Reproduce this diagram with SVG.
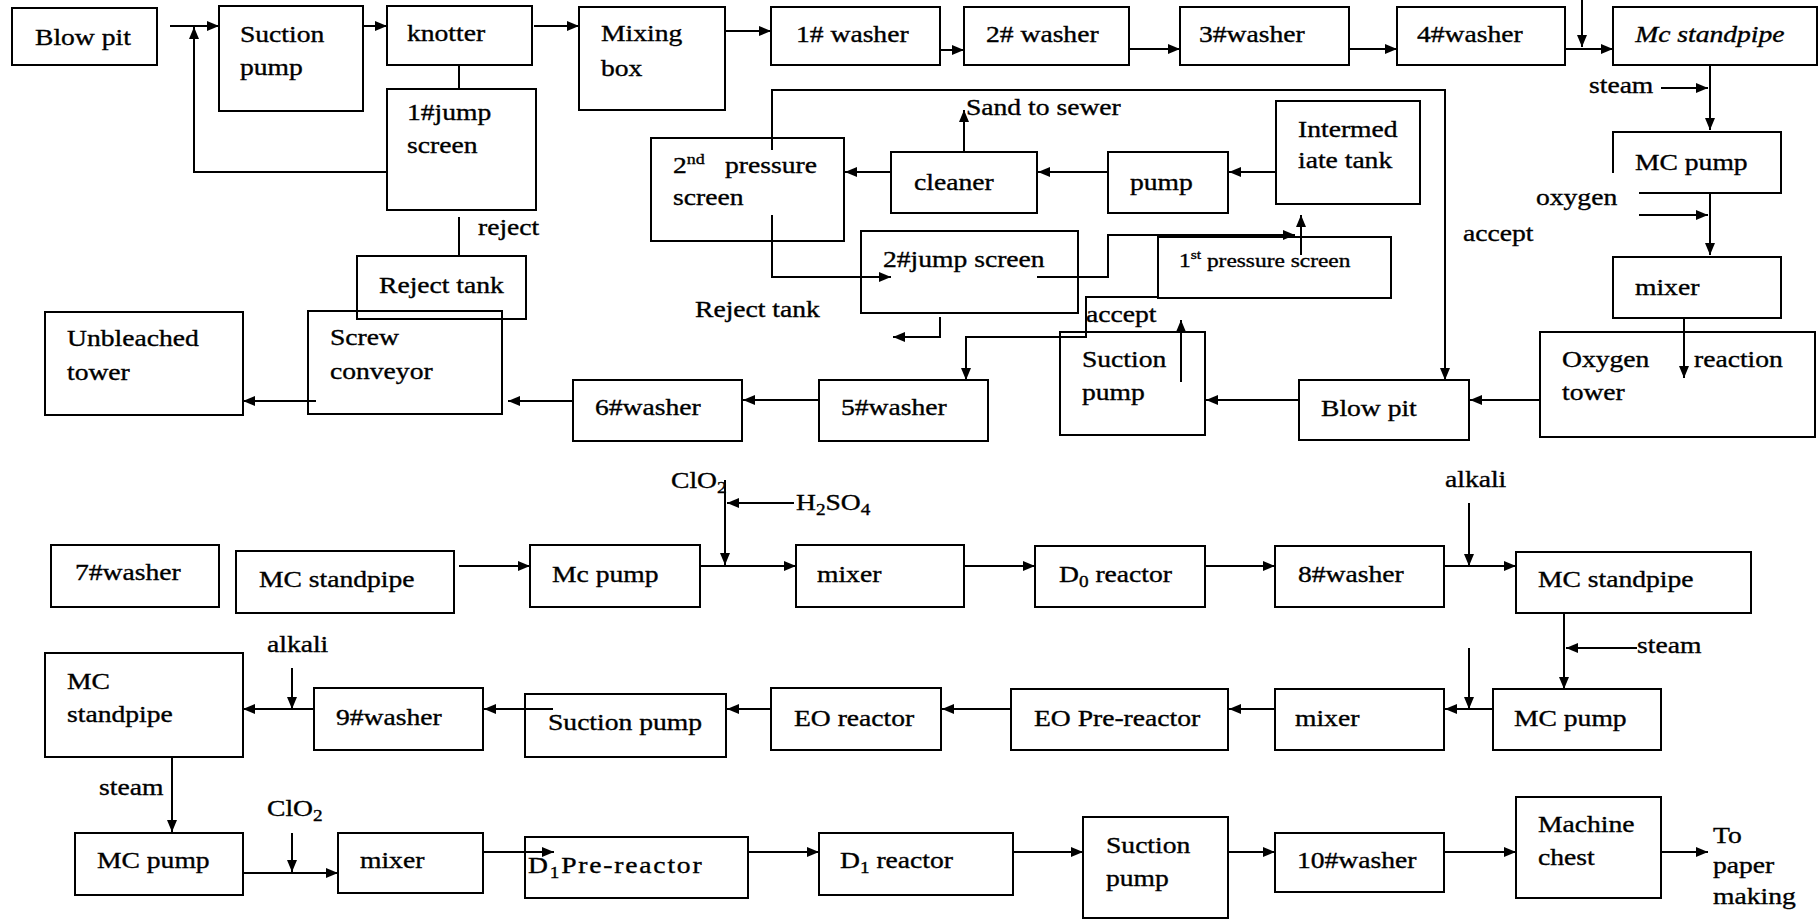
<svg xmlns="http://www.w3.org/2000/svg" width="1820" height="919" viewBox="0 0 1820 919">
  <style>
    .bx { fill: none; stroke: #000; stroke-width: 2; }
    .ln { fill: none; stroke: #000; stroke-width: 2; }
    .ar { marker-end: url(#ah); }
    text { font-family: "Liberation Serif", "Times New Roman", serif; font-size: 23px; fill: #000;
           stroke: #000; stroke-width: 0.35;
           transform-box: fill-box; transform-origin: left; transform: scaleX(1.2); }
    .it { font-style: italic; }
    .sm { font-size: 19.5px; }
  </style>
  <defs>
    <marker id="ah" viewBox="0 0 12 10" refX="12" refY="5" markerWidth="12" markerHeight="10" orient="auto" markerUnits="userSpaceOnUse">
      <path d="M0,0 L12,5 L0,10 z" fill="#000"/>
    </marker>
  </defs>
  <rect width="1820" height="919" fill="#fff"/>

  <!-- pulping and washing line -->
  <g id="blow-pit-1"><rect class="bx" x="12" y="8" width="145" height="57"/><text x="35" y="45">Blow pit</text></g>
  <g id="suction-pump-1"><rect class="bx" x="219" y="6" width="144" height="105"/><text x="240" y="42">Suction</text><text x="240" y="75">pump</text></g>
  <g id="knotter"><rect class="bx" x="387" y="6" width="145" height="59"/><text x="407" y="41">knotter</text></g>
  <g id="jump-screen-1"><rect class="bx" x="387" y="89" width="149" height="121"/><text x="407" y="120">1#jump</text><text x="407" y="153">screen</text></g>
  <g id="mixing-box"><rect class="bx" x="579" y="7" width="146" height="103"/><text x="601" y="41.5">Mixing</text><text x="601" y="76.5">box</text></g>
  <g id="washer-1"><rect class="bx" x="771" y="7" width="169" height="58"/><text x="796" y="42">1# washer</text></g>
  <g id="washer-2"><rect class="bx" x="964" y="7" width="165" height="58"/><text x="986" y="42">2# washer</text></g>
  <g id="washer-3"><rect class="bx" x="1180" y="7" width="169" height="58"/><text x="1199" y="42">3#washer</text></g>
  <g id="washer-4"><rect class="bx" x="1397" y="7" width="168" height="58"/><text x="1417" y="42">4#washer</text></g>
  <g id="mc-standpipe-1"><rect class="bx" x="1613" y="7" width="204" height="58"/><text class="it" x="1635" y="42">Mc standpipe</text></g>
  <g id="mc-pump-1"><path class="bx" d="M1639,193 H1781 V132 H1613 V173"/><text x="1635" y="170">MC pump</text></g>
  <g id="mixer-1"><rect class="bx" x="1613" y="257" width="168" height="61"/><text x="1635" y="295">mixer</text></g>
  <g id="oxygen-tower"><rect class="bx" x="1540" y="332" width="275" height="105"/><text x="1562" y="367">Oxygen</text><text x="1562" y="400.5">tower</text><text x="1694" y="367">reaction</text></g>
  <g id="blow-pit-2"><rect class="bx" x="1299" y="380" width="170" height="60"/><text x="1321" y="416.5">Blow pit</text></g>
  <g id="suction-pump-2"><rect class="bx" x="1060" y="332" width="145" height="103"/><text x="1082" y="367">Suction</text><text x="1082" y="400.5">pump</text></g>
  <g id="pressure-screen-1"><rect class="bx" x="1158" y="237" width="233" height="61"/><text class="sm" x="1179" y="267">1<tspan font-size="13" dy="-8">st</tspan><tspan dy="8"> pressure screen</tspan></text></g>
  <g id="intermediate-tank"><rect class="bx" x="1276" y="101" width="144" height="103"/><text x="1298" y="137">Intermed</text><text x="1298" y="168">iate tank</text></g>
  <g id="pump"><rect class="bx" x="1108" y="152" width="120" height="61"/><text x="1130" y="190">pump</text></g>
  <g id="cleaner"><rect class="bx" x="891" y="152" width="146" height="61"/><text x="914" y="190">cleaner</text></g>
  <g id="pressure-screen-2"><rect class="bx" x="651" y="138" width="193" height="103"/><text x="673" y="173">2<tspan font-size="15" dy="-9">nd</tspan></text><text x="725" y="173">pressure</text><text x="673" y="205">screen</text></g>
  <g id="jump-screen-2"><rect class="bx" x="861" y="231" width="217" height="82"/><text x="883" y="267">2#jump screen</text></g>
  <g id="washer-5"><rect class="bx" x="819" y="380" width="169" height="61"/><text x="841" y="415">5#washer</text></g>
  <g id="washer-6"><rect class="bx" x="573" y="380" width="169" height="61"/><text x="595" y="415">6#washer</text></g>
  <g id="screw-conveyor"><rect class="bx" x="308" y="311" width="194" height="103"/><text x="330" y="345">Screw</text><text x="330" y="379">conveyor</text></g>
  <g id="reject-tank"><rect class="bx" x="357" y="256" width="169" height="63"/><text x="379" y="293">Reject tank</text></g>
  <g id="unbleached-tower"><rect class="bx" x="45" y="312" width="198" height="103"/><text x="67" y="346">Unbleached</text><text x="67" y="380">tower</text></g>

  <!-- bleaching line -->
  <g id="washer-7"><rect class="bx" x="51" y="545" width="168" height="62"/><text x="75" y="580">7#washer</text></g>
  <g id="mc-standpipe-2"><rect class="bx" x="236" y="551" width="218" height="62"/><text x="259" y="587">MC standpipe</text></g>
  <g id="mc-pump-2"><rect class="bx" x="530" y="545" width="170" height="62"/><text x="552" y="582">Mc pump</text></g>
  <g id="mixer-2"><rect class="bx" x="796" y="545" width="168" height="62"/><text x="817" y="582">mixer</text></g>
  <g id="d0-reactor"><rect class="bx" x="1035" y="546" width="170" height="61"/><text x="1059" y="582">D<tspan font-size="16" dy="5">0</tspan><tspan dy="-5"> reactor</tspan></text></g>
  <g id="washer-8"><rect class="bx" x="1275" y="546" width="169" height="61"/><text x="1298" y="582">8#washer</text></g>
  <g id="mc-standpipe-3"><rect class="bx" x="1516" y="552" width="235" height="61"/><text x="1538" y="587">MC standpipe</text></g>
  <g id="mc-pump-3"><rect class="bx" x="1493" y="689" width="168" height="61"/><text x="1514" y="726">MC pump</text></g>
  <g id="mixer-3"><rect class="bx" x="1275" y="689" width="169" height="61"/><text x="1295" y="726">mixer</text></g>
  <g id="eo-pre-reactor"><rect class="bx" x="1011" y="689" width="217" height="61"/><text x="1034" y="726">EO Pre-reactor</text></g>
  <g id="eo-reactor"><rect class="bx" x="771" y="688" width="170" height="62"/><text x="794" y="726">EO reactor</text></g>
  <g id="suction-pump-3"><rect class="bx" x="525" y="694" width="201" height="63"/><text x="548" y="730">Suction pump</text></g>
  <g id="washer-9"><rect class="bx" x="314" y="688" width="169" height="62"/><text x="336" y="725">9#washer</text></g>
  <g id="mc-standpipe-4"><rect class="bx" x="45" y="653" width="198" height="104"/><text x="67" y="689">MC</text><text x="67" y="722">standpipe</text></g>
  <g id="mc-pump-4"><rect class="bx" x="75" y="833" width="168" height="62"/><text x="97" y="868">MC pump</text></g>
  <g id="mixer-4"><rect class="bx" x="338" y="833" width="145" height="60"/><text x="360" y="868">mixer</text></g>
  <g id="d1-pre-reactor"><rect class="bx" x="525" y="837" width="223" height="61"/><text x="528" y="873" letter-spacing="1.5">D<tspan font-size="16" dy="5">1</tspan><tspan dy="-5">Pre-reactor</tspan></text></g>
  <g id="d1-reactor"><rect class="bx" x="819" y="833" width="194" height="62"/><text x="840" y="868">D<tspan font-size="16" dy="5">1</tspan><tspan dy="-5"> reactor</tspan></text></g>
  <g id="suction-pump-4"><rect class="bx" x="1083" y="817" width="145" height="101"/><text x="1106" y="853">Suction</text><text x="1106" y="886.5">pump</text></g>
  <g id="washer-10"><rect class="bx" x="1275" y="833" width="169" height="59"/><text x="1297" y="868">10#washer</text></g>
  <g id="machine-chest"><rect class="bx" x="1516" y="797" width="145" height="101"/><text x="1538" y="832">Machine</text><text x="1538" y="865.5">chest</text></g>

  <!-- free labels -->
  <g id="labels">
    <text x="478" y="235">reject</text>
    <text x="966" y="115">Sand to sewer</text>
    <text x="695" y="317">Reject tank</text>
    <text x="1086" y="322">accept</text>
    <text x="1463" y="241">accept</text>
    <text x="1589" y="93">steam</text>
    <text x="1536" y="205">oxygen</text>
    <text x="671" y="488">ClO<tspan font-size="16" dy="5">2</tspan></text>
    <text x="796" y="510">H<tspan font-size="16" dy="5">2</tspan><tspan dy="-5">SO</tspan><tspan font-size="16" dy="5">4</tspan></text>
    <text x="1445" y="487">alkali</text>
    <text x="1637" y="653">steam</text>
    <text x="267" y="652">alkali</text>
    <text x="99" y="795">steam</text>
    <text x="267" y="816">ClO<tspan font-size="16" dy="5">2</tspan></text>
    <text x="1713" y="843">To</text>
    <text x="1713" y="873">paper</text>
    <text x="1713" y="904">making</text>
  </g>

  <!-- flow lines -->
  <g id="connectors">
    <path class="ln ar" d="M170,26 H219"/>
    <path class="ln ar" d="M387,172 H194 V27"/>
    <path class="ln ar" d="M363,26 H387"/>
    <path class="ln" d="M459,65 V89"/>
    <path class="ln" d="M459,217 V256"/>
    <path class="ln ar" d="M534,26 H579"/>
    <path class="ln ar" d="M725,31 H771"/>
    <path class="ln ar" d="M940,50 H964"/>
    <path class="ln ar" d="M1129,49 H1180"/>
    <path class="ln ar" d="M1349,49 H1397"/>
    <path class="ln ar" d="M1565,49 H1613"/>
    <path class="ln ar" d="M1582,0 V47"/>
    <path class="ln ar" d="M1661,88 H1708"/>
    <path class="ln ar" d="M1710,65 V130"/>
    <path class="ln ar" d="M1639,215 H1708"/>
    <path class="ln ar" d="M1710,193 V255"/>
    <path class="ln ar" d="M1684,318 V378"/>
    <path class="ln ar" d="M1540,400 H1470"/>
    <path class="ln ar" d="M772,150 V90 H1445 V380"/>
    <path class="ln ar" d="M1299,400 H1206"/>
    <path class="ln ar" d="M1181,382 V320"/>
    <path class="ln ar" d="M1158,297 H1086 V337 H966 V380"/>
    <path class="ln ar" d="M1037,277 H1108 V235 H1295"/>
    <path class="ln ar" d="M1301,255 V215"/>
    <path class="ln ar" d="M1276,172 H1229"/>
    <path class="ln ar" d="M1108,172 H1038"/>
    <path class="ln ar" d="M891,172 H845"/>
    <path class="ln ar" d="M964,152 V110"/>
    <path class="ln ar" d="M772,215 V277 H891"/>
    <path class="ln ar" d="M940,317 V337 H893"/>
    <path class="ln ar" d="M819,400 H743"/>
    <path class="ln ar" d="M573,401 H508"/>
    <path class="ln ar" d="M316,401 H243"/>

    <path class="ln ar" d="M459,566 H530"/>
    <path class="ln ar" d="M725,480 V565"/>
    <path class="ln ar" d="M794,503 H727"/>
    <path class="ln ar" d="M700,566 H796"/>
    <path class="ln ar" d="M964,566 H1035"/>
    <path class="ln ar" d="M1205,566 H1275"/>
    <path class="ln ar" d="M1444,566 H1516"/>
    <path class="ln ar" d="M1469,503 V566"/>
    <path class="ln ar" d="M1564,613 V689"/>
    <path class="ln ar" d="M1637,648 H1566"/>
    <path class="ln ar" d="M1469,648 V709"/>
    <path class="ln ar" d="M1493,709 H1445"/>
    <path class="ln ar" d="M1275,709 H1229"/>
    <path class="ln ar" d="M1011,709 H942"/>
    <path class="ln ar" d="M771,709 H727"/>
    <path class="ln ar" d="M553,709 H484"/>
    <path class="ln ar" d="M314,709 H243"/>
    <path class="ln ar" d="M292,668 V709"/>
    <path class="ln ar" d="M172,757 V832"/>
    <path class="ln ar" d="M243,873 H338"/>
    <path class="ln ar" d="M292,833 V872"/>
    <path class="ln ar" d="M483,852 H554"/>
    <path class="ln ar" d="M748,852 H819"/>
    <path class="ln ar" d="M1013,852 H1083"/>
    <path class="ln ar" d="M1228,852 H1275"/>
    <path class="ln ar" d="M1444,852 H1516"/>
    <path class="ln ar" d="M1661,852 H1708"/>
  </g>
</svg>
